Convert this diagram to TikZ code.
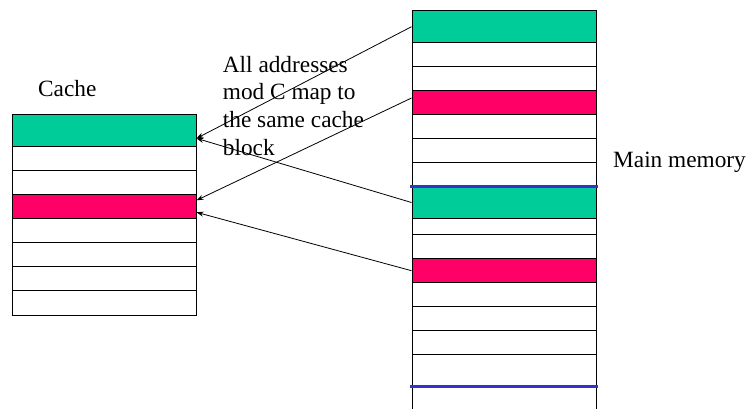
\documentclass[tikz,border=0pt]{standalone}
\usepackage{fontspec}
\setmainfont{Liberation Serif}
\newfontfamily\notefont{Liberation Serif}
\usepackage{xcolor}
\usepackage{tikz}
\usetikzlibrary{arrows.meta}

\definecolor{blockgreen}{RGB}{0,204,153}
\definecolor{blockred}{RGB}{255,0,102}
\definecolor{wrapblue}{RGB}{51,51,204}

\begin{document}
\begin{tikzpicture}[x=1pt,y=-1pt,
	lbl/.style={font=\notefont\fontsize{23.3}{27.6}\selectfont, inner sep=0pt},
	blk/.style={draw, line width=1pt, minimum width=184pt, inner sep=0pt},
	arr/.style={-{Stealth[length=7pt,width=5pt]}, line width=0.8pt}]
	\useasboundingbox (0,0) rectangle (753,408);

	% cache
	\draw[line width=1pt] (12,114) rectangle (196,315);
	\foreach \y in {170,242.3,266.7,290}
		\draw[line width=1pt] (12,\y) -- (196,\y);
	\node[blk, fill=blockgreen, minimum height=32.7pt] (c1) at (104,130.35) {};
	\node[blk, fill=blockred, minimum height=24pt] (c2) at (104,206.3) {};
	\node[lbl, anchor=base west] (cachelbl) at (38,96) {Cache};

	% main memory
	\draw[line width=1pt] (412,410) -- (412,10.7) -- (596,10.7) -- (596,410);
	\foreach \y in {66.3,138,162.3,234.3,306.7,330.3,354.7}
		\draw[line width=1pt] (412,\y) -- (596,\y);
	\node[blk, fill=blockgreen, minimum height=32pt] (m1) at (504,26.7) {};
	\node[blk, fill=blockred, minimum height=24pt] (m2) at (504,102) {};
	\node[blk, fill=blockgreen, minimum height=32.4pt] (m3) at (504,202.5) {};
	\node[blk, fill=blockred, minimum height=24pt] (m4) at (504,270.7) {};
	\foreach \y in {186.3,386.7}
		\draw[wrapblue, line width=3pt] (410,\y) -- (598,\y);
	\node[lbl, anchor=base west] (memlbl) at (613,167) {Main memory};

	% mapping
	\node[lbl, anchor=north west, align=left] (note) at (222.7,56)
		{All addresses\\mod C map to\\the same cache\\block};
	\coordinate (c1in) at ([yshift=-8pt]c1.east);
	\coordinate (c2a) at ([yshift=6pt]c2.east);
	\coordinate (c2b) at ([yshift=-6pt]c2.east);
	\draw[arr] (m1.west) -- (c1in);
	\draw[arr] ([yshift=4pt]m2.west) -- (c2a);
	\draw[arr] (m3.west) -- (c1in);
	\draw[arr] (m4.west) -- (c2b);
\end{tikzpicture}
\end{document}
